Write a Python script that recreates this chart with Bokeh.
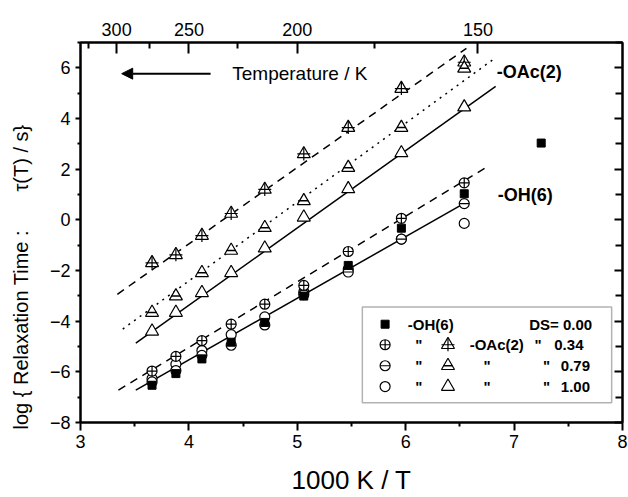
import math
from bokeh.plotting import figure
from bokeh.models import (LinearAxis, FixedTicker, CustomJSTickFormatter, Range1d,
                          Label, Arrow, NormalHead, BoxAnnotation)
from bokeh.embed import file_html
from bokeh.resources import INLINE

FONT = "Liberation Sans"

# ---------------- data ----------------
INV_T = [3.66, 3.88, 4.12, 4.39, 4.70, 5.06, 5.47, 5.96, 6.54]      # 1000 K / T
OH_DS000_X = [3.66, 3.88, 4.12, 4.39, 4.70, 5.06, 5.47, 5.96, 6.54, 7.25]
OH_DS000 = [-6.53, -6.07, -5.49, -4.83, -4.05, -3.01, -1.80, -0.33, 1.03, 3.03]
OH_DS034 = [-5.97, -5.39, -4.77, -4.12, -3.33, -2.59, -1.25, 0.06, 1.46]
OH_DS079 = [-6.40, -5.95, -5.35, -4.95, -4.15, -2.95, -2.06, -0.76, 0.64]
OH_DS100 = [-6.27, -5.70, -5.16, -4.53, -3.83, -2.85, -1.95, -0.76, -0.14]
OAC_DS034 = [-1.70, -1.38, -0.62, 0.25, 1.20, 2.60, 3.64, 5.18, 6.22]
OAC_DS079 = [-3.66, -3.01, -2.09, -1.21, -0.31, 0.75, 2.06, 3.64, 5.98]
OAC_DS100 = [-4.40, -3.66, -2.88, -2.09, -1.12, 0.10, 1.22, 2.64, 4.45]

# fitted Arrhenius lines (end points)
FIT_OAC034_X = [3.34, 6.56]
FIT_OAC034_Y = [-2.94, 6.77]
FIT_OAC079_X = [3.39, 6.81]
FIT_OAC079_Y = [-4.31, 6.34]
FIT_OAC100_X = [3.51, 6.83]
FIT_OAC100_Y = [-4.87, 5.27]
FIT_OH034_X = [3.35, 6.77]
FIT_OH034_Y = [-6.72, 2.14]
FIT_OH100_X = [3.51, 6.58]
FIT_OH100_Y = [-6.72, 0.75]

X_TICKS = [3, 4, 5, 6, 7, 8]
X_MINOR = [3.5, 4.5, 5.5, 6.5, 7.5]
Y_TICKS = [-8, -6, -4, -2, 0, 2, 4, 6]
Y_MINOR = [-7, -5, -3, -1, 1, 3, 5, 7]
TOP_TEMPS = [300, 250, 200, 150]
TOP_MINOR_TEMPS = [325, 275, 225, 175]
DS_LABELS = ["0.00", "0.34", "0.79", "1.00"]

NB = "\u00a0"
Y_TITLE = "log { Relaxation Time :" + NB * 7 + "\u03c4(T) / s}" + NB * 16

# ---------------- figure ----------------
p = figure(width=628, height=497, output_backend="svg", toolbar_location=None,
           x_range=Range1d(3, 8), y_range=Range1d(-8, 7),
           min_border_left=80, min_border_right=6, min_border_top=42,
           min_border_bottom=71)
p.xgrid.visible = False
p.ygrid.visible = False
p.outline_line_color = "black"
p.outline_line_width = 2
p.background_fill_color = "white"
p.border_fill_color = "white"


def style_axis(ax, t_in, t_out, m_in, m_out, standoff=5):
    ax.axis_line_width = 2
    ax.axis_line_color = "black"
    ax.major_tick_line_width = 2
    ax.minor_tick_line_width = 2
    ax.major_tick_line_color = "black"
    ax.minor_tick_line_color = "black"
    ax.major_tick_in = t_in
    ax.major_tick_out = t_out
    ax.minor_tick_in = m_in
    ax.minor_tick_out = m_out
    ax.major_label_text_font = FONT
    ax.major_label_text_font_size = "18px"
    ax.major_label_text_color = "black"
    ax.major_label_standoff = standoff


xb = p.xaxis[0]
xb.ticker = FixedTicker(ticks=X_TICKS, minor_ticks=X_MINOR)
style_axis(xb, 0, 8, 0, 4, standoff=4)
xb.axis_label = "1000 K / T"
xb.axis_label_text_font = FONT
xb.axis_label_text_font_size = "26px"
xb.axis_label_text_font_style = "normal"
xb.axis_label_text_color = "black"
xb.axis_label_standoff = 14

yl = p.yaxis[0]
yl.ticker = FixedTicker(ticks=Y_TICKS, minor_ticks=Y_MINOR)
style_axis(yl, 0, 5, 0, 3, standoff=5)
yl.axis_label = Y_TITLE
yl.axis_label_text_font = FONT
yl.axis_label_text_font_size = "20px"
yl.axis_label_text_font_style = "normal"
yl.axis_label_text_color = "black"
yl.axis_label_standoff = 15

top = LinearAxis(ticker=FixedTicker(ticks=[1000.0 / t for t in TOP_TEMPS],
                                    minor_ticks=[1000.0 / t for t in TOP_MINOR_TEMPS]),
                 formatter=CustomJSTickFormatter(code="return Math.round(1000/tick).toString()"))
style_axis(top, 11, 0, 6, 0, standoff=7)
p.add_layout(top, "above")

right = LinearAxis(ticker=FixedTicker(ticks=Y_TICKS, minor_ticks=Y_MINOR),
                   formatter=CustomJSTickFormatter(code="return ''"))
style_axis(right, 8, 0, 7, 0, standoff=0)
p.add_layout(right, "right")

# ---------------- symbols ----------------
def draw(kind, xs, ys):
    if kind == "sq":
        p.scatter(xs, ys, marker="square", size=8, fill_color="black", line_color="black")
    elif kind == "circ_cross":
        p.scatter(xs, ys, marker="circle_cross", size=10, fill_color="white",
                  line_color="black", line_width=1.2)
    elif kind == "circ_bar":
        p.scatter(xs, ys, marker="circle", size=10, fill_color="white",
                  line_color="black", line_width=1.2)
        p.scatter(xs, ys, marker="dash", size=10, line_color="black", line_width=1.2)
    elif kind == "circ":
        p.scatter(xs, ys, marker="circle", size=10, fill_color="white",
                  line_color="black", line_width=1.2)
    elif kind == "tri_cross":
        p.scatter(xs, ys, marker="triangle", size=13, fill_color="white",
                  line_color="black", line_width=1.2)
        p.scatter(xs, ys, marker="cross", size=13, line_color="black", line_width=1.2)
    elif kind == "tri_bar":
        p.scatter(xs, ys, marker="triangle", size=13, fill_color="white",
                  line_color="black", line_width=1.2)
        p.scatter(xs, ys, marker="dash", size=9, line_color="black", line_width=1.5)
    elif kind == "tri":
        p.scatter(xs, ys, marker="triangle", size=13, fill_color="white",
                  line_color="black", line_width=1.2)


# fit lines
p.line(FIT_OAC034_X, FIT_OAC034_Y, line_color="black", line_width=1.5, line_dash="8 6")
p.line(FIT_OAC079_X, FIT_OAC079_Y, line_color="black", line_width=1.5, line_dash="2 5")
p.line(FIT_OAC100_X, FIT_OAC100_Y, line_color="black", line_width=1.5)
p.line(FIT_OH034_X, FIT_OH034_Y, line_color="black", line_width=1.5, line_dash="8 6")
p.line(FIT_OH100_X, FIT_OH100_Y, line_color="black", line_width=1.5)

# data points
draw("tri_cross", INV_T, OAC_DS034)
draw("tri_bar", INV_T, OAC_DS079)
draw("tri", INV_T, OAC_DS100)
draw("circ", INV_T, OH_DS100)
draw("circ_bar", INV_T, OH_DS079)
draw("sq", OH_DS000_X, OH_DS000)
draw("circ_cross", INV_T, OH_DS034)

# ---------------- annotations ----------------
p.add_layout(Label(x=6.84, y=5.84, text="-OAc(2)", text_font=FONT, text_font_size="18px",
                   text_font_style="bold", text_baseline="middle", text_color="black"))
p.add_layout(Label(x=6.85, y=0.97, text="-OH(6)", text_font=FONT, text_font_size="18px",
                   text_font_style="bold", text_baseline="middle", text_color="black"))
p.add_layout(Label(x=4.40, y=5.77, text="Temperature / K", text_font=FONT,
                   text_font_size="19px", text_baseline="middle", text_color="black"))
p.add_layout(Arrow(x_start=4.20, y_start=5.77, x_end=3.38, y_end=5.77, line_width=2,
                   line_color="black",
                   end=NormalHead(size=11, fill_color="black", line_color="black")))

# ---------------- legend box ----------------
p.add_layout(BoxAnnotation(left=5.60, right=7.90, bottom=-7.22, top=-3.44,
                           fill_color="white", fill_alpha=1.0, line_color="black",
                           line_width=1.5, level="underlay"))
LEG_ROWS = [-4.12, -4.93, -5.76, -6.58]
LEG_SYM_X = 5.81
LEG_Q1_X = 6.12
LEG_TRI_X = 6.39


def leg_text(x, y, txt, align="left"):
    p.add_layout(Label(x=x, y=y, text=txt, text_font=FONT, text_font_size="15px",
                       text_font_style="bold", text_baseline="middle",
                       text_align=align, text_color="black"))


draw("sq", [LEG_SYM_X], [LEG_ROWS[0]])
leg_text(6.02, LEG_ROWS[0], "-OH(6)")
leg_text(7.72, LEG_ROWS[0], "DS= " + DS_LABELS[0], "right")

draw("circ_cross", [LEG_SYM_X], [LEG_ROWS[1]])
leg_text(LEG_Q1_X, LEG_ROWS[1], '"', "center")
draw("tri_cross", [LEG_TRI_X], [LEG_ROWS[1]])
leg_text(6.59, LEG_ROWS[1], "-OAc(2)")
leg_text(7.22, LEG_ROWS[1], '"', "center")
leg_text(7.64, LEG_ROWS[1], DS_LABELS[1], "right")

draw("circ_bar", [LEG_SYM_X], [LEG_ROWS[2]])
leg_text(LEG_Q1_X, LEG_ROWS[2], '"', "center")
draw("tri_bar", [LEG_TRI_X], [LEG_ROWS[2]])
leg_text(6.75, LEG_ROWS[2], '"', "center")
leg_text(7.30, LEG_ROWS[2], '"', "center")
leg_text(7.70, LEG_ROWS[2], DS_LABELS[2], "right")

draw("circ", [LEG_SYM_X], [LEG_ROWS[3]])
leg_text(LEG_Q1_X, LEG_ROWS[3], '"', "center")
draw("tri", [LEG_TRI_X], [LEG_ROWS[3]])
leg_text(6.75, LEG_ROWS[3], '"', "center")
leg_text(7.30, LEG_ROWS[3], '"', "center")
leg_text(7.70, LEG_ROWS[3], DS_LABELS[3], "right")

open("out.html", "w").write(file_html(p, INLINE))
